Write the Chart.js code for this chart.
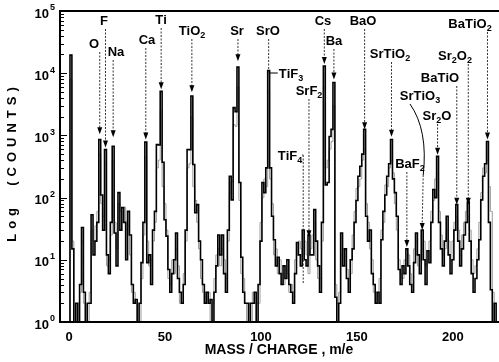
<!DOCTYPE html>
<html>
<head>
<meta charset="utf-8">
<script src="https://cdn.jsdelivr.net/npm/chart.js@4.4.1/dist/chart.umd.min.js"></script>
<style>
  html, body { margin: 0; padding: 0; background: #fff; }
  canvas { display: block; }
</style>
</head>
<body>
<canvas id="spectrum" width="499" height="362"></canvas>
<script>
// mass / charge channels (m/e), one count value per unit mass
const masses = Array.from({ length: 225 }, (_, i) => i);

// main scan (black trace), counts per mass 0..224
const countsMain = [
  1, 19500, 15, 1, 2, 1, 4, 33, 3, 1,
  2, 2, 53, 12, 20, 40, 860, 110, 30, 590,
  12, 6, 40, 670, 27, 8, 120, 30, 69, 40,
  10, 60, 25, 4, 2, 2.3, 1, 2, 9, 40,
  780, 9, 12, 4, 30, 60, 710, 700, 5100, 370,
  44, 24, 7, 3, 6, 10, 27, 5, 3, 2,
  4, 30, 590, 590, 4300, 340, 57, 77, 20, 10,
  4, 2, 3, 2, 2.3, 1, 3, 8, 25, 12,
  25, 6, 3, 30, 220, 92, 2800, 2400, 12500, 175,
  11, 3, 2, 2, 1, 2, 2, 3, 1, 4,
  20, 175, 120, 300, 11000, 300, 50, 21, 8, 11,
  6, 4, 8, 5, 10, 4, 3, 2, 6, 19,
  12, 8, 30, 10, 8, 25, 12, 12, 64, 20,
  8, 3, 40, 13000, 160, 175, 960, 1250, 7100, 2.5,
  1, 2, 27, 8, 15, 5, 3, 10, 15, 40,
  90, 220, 320, 500, 1250, 50, 20, 30, 6, 4,
  2, 3, 2, 21, 60, 110, 220, 350, 860, 200,
  120, 50, 7, 4, 8, 6, 15, 8, 4, 3,
  9, 27, 12, 6, 30, 10, 4, 14, 9, 40,
  135, 100, 460, 40, 15, 8, 20, 50, 12, 6,
  10, 30, 77, 20, 8, 15, 25, 40, 85, 20,
  6, 3, 5, 10, 21, 92, 220, 350, 800, 40,
  3.3, 1, 2, 1, 1
];

// second scan (grey trace)
const countsGrey = [
  1, 8000, 20, 1, 1, 2, 3, 20, 2, 1,
  1, 3, 30, 20, 35, 60, 500, 80, 50, 350,
  8, 10, 25, 400, 40, 15, 80, 60, 40, 70,
  30, 35, 12, 3, 3, 2, 1, 1, 5, 25,
  450, 20, 8, 10, 20, 40, 300, 400, 2500, 150,
  80, 30, 5, 4, 10, 6, 15, 8, 2, 3,
  6, 20, 300, 350, 2000, 150, 90, 40, 15, 5,
  3, 3, 2, 3, 1, 2, 5, 12, 15, 8,
  15, 10, 5, 20, 120, 180, 1500, 1400, 6000, 90,
  6, 5, 2, 1, 2, 1, 3, 2, 2, 2,
  40, 100, 200, 150, 5000, 200, 80, 12, 15, 6,
  10, 6, 4, 8, 6, 3, 4, 3, 10, 12,
  20, 15, 12, 20, 12, 6, 15, 25, 40, 10,
  5, 5, 20, 6000, 300, 400, 600, 800, 3000, 4,
  2, 3, 12, 15, 8, 7, 5, 6, 25, 60,
  140, 150, 200, 400, 600, 80, 40, 15, 10, 3,
  3, 2, 5, 30, 40, 160, 150, 300, 400, 250,
  80, 30, 10, 6, 5, 10, 8, 12, 6, 4,
  15, 20, 8, 10, 15, 20, 8, 10, 20, 60,
  90, 200, 250, 60, 25, 12, 15, 30, 20, 10,
  20, 40, 50, 30, 12, 25, 40, 60, 50, 30,
  10, 6, 8, 15, 40, 120, 300, 250, 400, 150,
  60, 3, 1, 1, 1
];

const xTicks = [0, 50, 100, 150, 200];
const yDecades = [0, 1, 2, 3, 4, 5];

// peak assignments: label, mass of the peak, counts where the arrow ends
const peakLabels = ["O", "F", "Na", "Ca", "Ti", "TiO_2", "Sr", "SrO", "TiF_3", "SrF_2", "TiF_4",
  "Cs", "Ba", "BaO", "SrTiO_2", "BaTiO", "SrTiO_3", "Sr_2O", "BaF_2", "Sr_2O_2", "BaTiO_2"];
const peakMasses = [16, 19, 23, 40, 48, 64, 88, 104, 104, 125, 122,
  133, 138, 154, 168, 202, 184, 192, 176, 208, 218];
const peakArrowCounts = [1040, 640, 930, 860, 5500, 4950, 15600, 11000, 0, 23, 4,
  14000, 7900, 1250, 950, 77, 30, 490, 16, 77, 860];

// label placement on the page (pixels) and how the pointer is drawn
const labelLayout = [
  [94, 43, "arrow"], [104, 20, "arrow"], [116, 51, "arrow"], [147, 39, "arrow"],
  [161, 19, "arrow"], [192, 30, "arrow"], [237, 30, "arrow"], [268, 30, "line"],
  [291, 73, "tickL"], [309, 90, "arrow"], [290, 155, "tickR"], [323, 20, "arrow"],
  [334, 40, "arrow"], [363, 20, "arrow"], [390, 53, "arrow"], [440, 77, "arrow"],
  [420, 95, "curve"], [437, 115, "arrow"], [410, 163, "arrow"], [455, 55, "arrow"],
  [470, 23, "arrow"]
];

const FONT = '"Liberation Sans", Arial, sans-serif';

function formulaParts(text) {
  const parts = [];
  for (let i = 0; i < text.length; i++) {
    if (text[i] === "_") {
      parts.push({ t: text[i + 1], sub: true });
      i++;
    } else {
      parts.push({ t: text[i], sub: false });
    }
  }
  return parts;
}

function drawFormula(ctx, text, cx, cy) {
  const parts = formulaParts(text);
  let total = 0;
  parts.forEach((p) => {
    ctx.font = p.sub ? `bold 9px ${FONT}` : `bold 13px ${FONT}`;
    p.w = ctx.measureText(p.t).width;
    total += p.w;
  });
  let x = cx - total / 2;
  ctx.textAlign = "left";
  ctx.textBaseline = "alphabetic";
  parts.forEach((p) => {
    ctx.font = p.sub ? `bold 9px ${FONT}` : `bold 13px ${FONT}`;
    ctx.fillText(p.t, x, cy + 5 + (p.sub ? 3 : 0));
    x += p.w;
  });
  return { left: cx - total / 2, right: cx + total / 2 };
}

function dotted(ctx, x0, y0, x1, y1) {
  ctx.save();
  ctx.setLineDash([2, 1.5]);
  ctx.lineWidth = 1;
  ctx.strokeStyle = "#333";
  ctx.beginPath();
  ctx.moveTo(x0, y0);
  ctx.lineTo(x1, y1);
  ctx.stroke();
  ctx.restore();
}

function arrowHead(ctx, x, tipY) {
  ctx.beginPath();
  ctx.moveTo(x, tipY);
  ctx.lineTo(x - 2.5, tipY - 7);
  ctx.lineTo(x + 2.5, tipY - 7);
  ctx.closePath();
  ctx.fill();
}

const decorations = {
  id: "decorations",
  afterDraw(chart) {
    const { ctx, chartArea: a, scales } = chart;
    const xs = scales.x;
    const ys = scales.y;
    ctx.save();
    ctx.fillStyle = "#000";
    ctx.strokeStyle = "#000";

    // frame
    ctx.lineWidth = 2;
    ctx.beginPath();
    ctx.moveTo(a.right, a.top);
    ctx.lineTo(a.left, a.top);
    ctx.lineTo(a.left, a.bottom);
    ctx.lineTo(a.right, a.bottom);
    ctx.stroke();

    // log ticks on the inside of the left axis
    ctx.lineWidth = 1;
    yDecades.forEach((d) => {
      for (let k = 1; k <= 9; k++) {
        if (d === 5 && k > 1) break;
        const py = Math.round(ys.getPixelForValue(k * Math.pow(10, d))) + 0.5;
        const len = k === 1 ? 7 : 4;
        ctx.beginPath();
        ctx.moveTo(a.left, py);
        ctx.lineTo(a.left + len, py);
        ctx.stroke();
      }
    });

    // y tick labels 10^n
    yDecades.forEach((d) => {
      const py = ys.getPixelForValue(Math.pow(10, d));
      ctx.font = `bold 13px ${FONT}`;
      ctx.textAlign = "right";
      ctx.textBaseline = "middle";
      ctx.fillText("10", 49, py + 3);
      ctx.font = `bold 9px ${FONT}`;
      ctx.textAlign = "left";
      ctx.fillText(String(d), 50, py - 3);
    });

    // axis titles
    ctx.font = `bold 14px ${FONT}`;
    ctx.textAlign = "center";
    ctx.textBaseline = "middle";
    ctx.fillText("MASS / CHARGE , m/e", 279, 350);

    ctx.save();
    ctx.translate(12, 162);
    ctx.rotate(-Math.PI / 2);
    ctx.font = `bold 13px ${FONT}`;
    ctx.letterSpacing = "5px";
    ctx.fillText("Log  (COUNTS)", 0, 0);
    ctx.restore();

    // peak labels with pointers
    peakLabels.forEach((label, i) => {
      const [cx, cy, kind] = labelLayout[i];
      const box = drawFormula(ctx, label, cx, cy);
      const px = xs.getPixelForValue(peakMasses[i]);
      if (kind === "arrow") {
        const tip = ys.getPixelForValue(peakArrowCounts[i]);
        dotted(ctx, px, cy + 9, px, tip - 6);
        arrowHead(ctx, px, tip);
      } else if (kind === "line") {
        const tip = ys.getPixelForValue(peakArrowCounts[i]);
        dotted(ctx, px, cy + 9, px, tip);
      } else if (kind === "tickL") {
        ctx.lineWidth = 1;
        ctx.beginPath();
        ctx.moveTo(px, cy);
        ctx.lineTo(box.left - 1, cy);
        ctx.stroke();
      } else if (kind === "tickR") {
        ctx.lineWidth = 1;
        ctx.beginPath();
        ctx.moveTo(box.right, cy);
        ctx.lineTo(px, cy);
        ctx.stroke();
        dotted(ctx, px, cy, px, ys.getPixelForValue(peakArrowCounts[i]));
      } else if (kind === "curve") {
        const tip = ys.getPixelForValue(peakArrowCounts[i]);
        ctx.lineWidth = 1;
        ctx.beginPath();
        ctx.moveTo(cx - 10, cy + 9);
        ctx.quadraticCurveTo(px + 6, cy + 35, px + 1, cy + 80);
        ctx.stroke();
        dotted(ctx, px + 1, cy + 80, px, tip - 6);
        arrowHead(ctx, px, tip);
      }
    });
    ctx.restore();
  },
};

const toPoints = (vals) => masses.map((m, i) => ({ x: m, y: vals[i] }));

new Chart(document.getElementById("spectrum"), {
  type: "line",
  data: {
    datasets: [
      {
        label: "scan 1",
        data: toPoints(countsMain),
        borderColor: "#000",
        borderWidth: 1.6,
        stepped: "middle",
        pointRadius: 0,
        fill: false,
      },
      {
        label: "scan 2",
        data: toPoints(countsGrey),
        borderColor: "#9a9a9a",
        borderWidth: 1,
        stepped: "middle",
        pointRadius: 0,
        fill: false,
      },
    ],
  },
  options: {
    responsive: false,
    animation: false,
    events: [],
    layout: { padding: { top: 11, right: 0, left: 0, bottom: 0 } },
    plugins: { legend: { display: false }, tooltip: { enabled: false } },
    scales: {
      x: {
        type: "linear",
        min: -4.7,
        max: 224,
        grid: { display: false, drawTicks: false },
        border: { display: false },
        afterBuildTicks: (scale) => {
          scale.ticks = xTicks.map((v) => ({ value: v }));
        },
        afterFit: (scale) => {
          scale.height = 40;
        },
        ticks: {
          padding: 8,
          maxRotation: 0,
          autoSkip: false,
          color: "#000",
          font: { family: FONT, size: 13, weight: "bold" },
        },
      },
      y: {
        type: "logarithmic",
        min: 1,
        max: 100000,
        grid: { display: false, drawTicks: false },
        border: { display: false },
        afterFit: (scale) => {
          scale.width = 60;
        },
        ticks: { display: false },
      },
    },
  },
  plugins: [decorations],
});
</script>
</body>
</html>
